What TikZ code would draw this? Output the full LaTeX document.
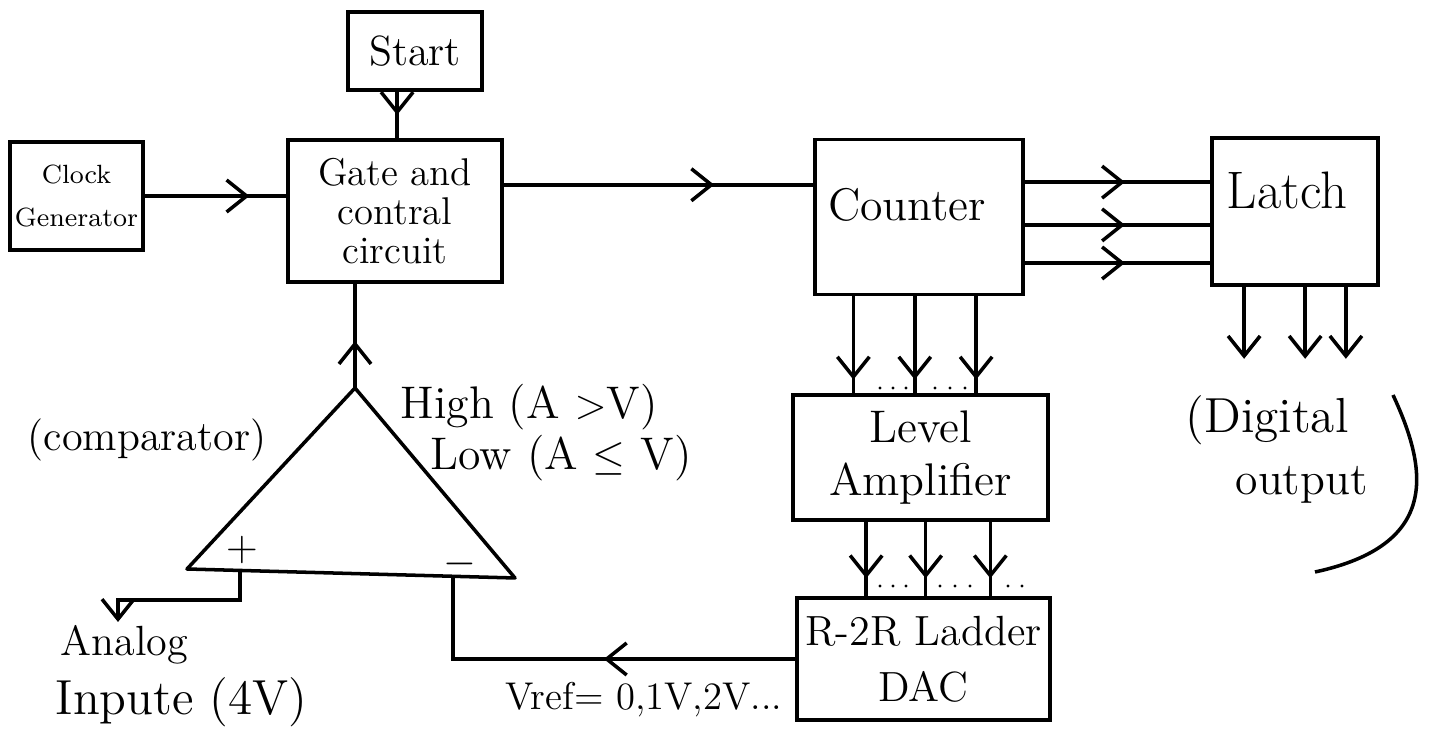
\documentclass[tikz,border=0pt]{standalone}
\usetikzlibrary{arrows.meta,decorations.markings,calc}
\begin{document}
\begin{tikzpicture}[x=0.01cm,y=-0.01cm,
  box/.style={draw, line width=1pt, rectangle, inner sep=0pt, align=center},
  conn/.style={draw, line width=1pt},
  barb/.tip={Straight Barb[length=2mm,width=3.2mm,line width=1pt]},
  midarr/.style={postaction={decorate}, decoration={markings, mark=at position #1 with {\arrow{barb}}}},
  endarr/.style={-{barb}},
  lbl/.style={inner sep=0pt, align=center},
  dotmark/.style={fill=black}
]
\useasboundingbox (0,0) rectangle (1435,731);
\fill[white] (0,0) rectangle (1435,731);

% boxes
\node[box, minimum width=1.34cm, minimum height=0.78cm, font=\fontsize{12}{14}\selectfont] (start) at (415,51) {Start};
\node[box, minimum width=1.33cm, minimum height=1.08cm, font=\fontsize{7.5}{12}\selectfont] (clock) at (76.5,196) {Clock\\Generator};
\node[box, minimum width=2.14cm, minimum height=1.42cm, font=\fontsize{11}{11}\selectfont] (gate) at (395,211) {Gate and\\contral\\circuit};
\node[box, minimum width=2.08cm, minimum height=1.55cm] (counter) at (919,217) {};
\node[lbl, font=\fontsize{13}{15}\selectfont] (countertxt) at (907,205) {Counter};
\node[box, minimum width=1.66cm, minimum height=1.47cm] (latch) at (1295,211.5) {};
\node[lbl, font=\fontsize{15}{17}\selectfont] (latchtxt) at (1287,190) {Latch};
\node[box, minimum width=2.55cm, minimum height=1.25cm, font=\fontsize{13}{15}\selectfont] (level) at (920.5,457.5) {Level\\Amplifier};
\node[box, minimum width=2.53cm, minimum height=1.22cm, font=\fontsize{12}{16}\selectfont] (dac) at (923.5,659) {R-2R Ladder\\DAC};

% comparator triangle
\coordinate (apex) at (355,388);
\coordinate (bl) at (187,569);
\coordinate (br) at (515,578);
\coordinate (plus) at (240,572);
\coordinate (minus) at (453,576);
\coordinate (ain) at (118,622);
\draw[line width=1pt, line join=round] (apex) -- (bl) -- (br) -- cycle;
\node[lbl, font=\fontsize{13}{15}\selectfont] (plussign) at (242,550) {$+$};
\node[lbl, font=\fontsize{13}{15}\selectfont] (minussign) at (460,564) {$-$};

% connectors
\coordinate (s1) at ($(start.south west)!0.37!(start.south east)$);
\draw[conn, midarr=0.5] (s1) -- (s1 |- gate.north);
\draw[conn, midarr=0.74] (clock.east) -- (clock.east -| gate.west);
\coordinate (g1) at ($(gate.north east)!0.32!(gate.south east)$);
\draw[conn, midarr=0.68] (g1) -- (g1 -| counter.west);

\foreach \f [count=\i] in {0.28,0.55,0.79}{
  \coordinate (c\i) at ($(counter.north east)!\f!(counter.south east)$);
  \draw[conn, midarr=0.54] (c\i) -- (c\i -| latch.west);
}
\foreach \f [count=\i] in {0.19,0.48,0.77}{
  \coordinate (d\i) at ($(counter.south west)!\f!(counter.south east)$);
  \draw[conn, midarr=0.86] (d\i) -- (d\i |- level.north);
}
\foreach \f [count=\i] in {0.29,0.52,0.77}{
  \coordinate (e\i) at ($(level.south west)!\f!(level.south east)$);
  \draw[conn, midarr=0.76] (e\i) -- (e\i |- dac.north);
}
\foreach \f [count=\i] in {0.2,0.56,0.8}{
  \coordinate (l\i) at ($(latch.south west)!\f!(latch.south east)$);
  \coordinate (lo\i) at ($(l\i)+(0,72)$);
  \draw[conn, endarr] (l\i) -- (lo\i);
}

% dots between bus arrows
\foreach \x in {880,893,906,935,950,965}{\fill[dotmark] (\x,388) circle (1.6);}
\foreach \x in {880,893,906,940,955,970,1008,1022}{\fill[dotmark] (\x,586) circle (1.6);}

% comparator output to gate
\draw[conn, midarr=0.45] (apex) -- (apex |- gate.south);

% analog input
\draw[conn, endarr] (plus) -- ++(0,28) -| (ain);

% DAC feedback to minus input
\draw[conn, midarr=0.45] (dac.west) -- (dac.west -| minus) -- (minus);

% labels
\node[lbl, font=\fontsize{12}{14}\selectfont] (comp) at (147,440) {(comparator)};
\node[lbl, font=\fontsize{13}{15}\selectfont, anchor=west] (high) at (400,407) {High (A $>$V)};
\node[lbl, font=\fontsize{13}{15}\selectfont, anchor=west] (low) at (430,458) {Low (A $\leq$ V)};
\node[lbl, font=\fontsize{12}{14}\selectfont, anchor=west] (analog) at (60,645) {Analog};
\node[lbl, font=\fontsize{14}{16}\selectfont, anchor=west] (inpute) at (55,702) {Inpute (4V)};
\node[lbl, font=\fontsize{11}{13}\selectfont, anchor=west] (vref) at (505,700) {Vref= 0,1V,2V...};
\node[lbl, font=\fontsize{14}{16}\selectfont, anchor=west] (digital) at (1185,420) {(Digital};
\node[lbl, font=\fontsize{13}{15}\selectfont, anchor=west] (output) at (1235,485) {output};
\draw[line width=1pt] (1393,395) .. controls (1428,470) and (1440,545) .. (1315,572);
\end{tikzpicture}
\end{document}
